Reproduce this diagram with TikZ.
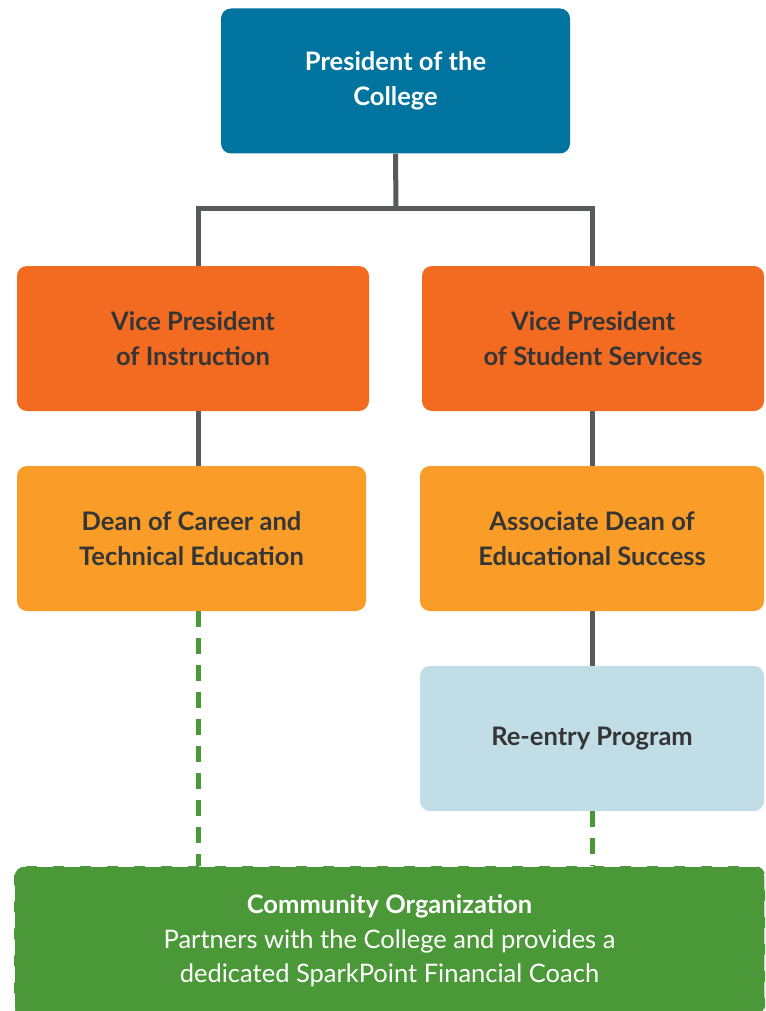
\documentclass[tikz,border=0pt]{standalone}
\usepackage{fontspec}
\setmainfont{Lato}
\definecolor{presblue}{HTML}{00739E}
\definecolor{vporange}{HTML}{F26B21}
\definecolor{deanorange}{HTML}{F99D28}
\definecolor{relblue}{HTML}{C1DDE6}
\definecolor{cogreen}{HTML}{4A9838}
\definecolor{linegray}{HTML}{58595B}
\definecolor{txtdark}{HTML}{353535}
\begin{document}
\begin{tikzpicture}[x=1pt,y=-1pt,
  box/.style={rounded corners=10pt, inner sep=0pt, align=center, font=\fontsize{25.5}{34.5}\selectfont\bfseries},
  conn/.style={draw=linegray, line width=5pt},
  dconn/.style={draw=cogreen, line width=5pt, dash pattern=on 16pt off 11pt}]
\useasboundingbox (0,0) rectangle (765,1011);
\node[box, fill=presblue, text=white, minimum width=349pt, minimum height=145pt] (pres) at (395.5,81) {President of the\\College};
\node[box, fill=vporange, text=txtdark, minimum width=352pt, minimum height=145pt] (vpi) at (193,338.5) {Vice President\\of Instruction};
\node[box, fill=vporange, text=txtdark, minimum width=342pt, minimum height=145pt] (vps) at (593,338.5) {Vice President\\of Student Services};
\node[box, fill=deanorange, text=txtdark, minimum width=349pt, minimum height=145pt] (dean) at (191.5,538.5) {Dean of Career and\\Technical Education};
\node[box, fill=deanorange, text=txtdark, minimum width=344pt, minimum height=145pt] (ad) at (592,538.5) {Associate Dean of\\Educational Success};
\node[box, fill=relblue, text=txtdark, minimum width=344pt, minimum height=145pt] (re) at (592,738.5) {Re-entry Program};
\node[box, fill=cogreen, text=white, draw=white, line width=1.5pt, dash pattern=on 16pt off 11pt, minimum width=751pt, minimum height=150pt, font=\fontsize{25.5}{34.5}\selectfont] (co) at (389.5,941) {\textbf{Community Organization}\\Partners with the College and provides a\\dedicated SparkPoint Financial Coach};
\coordinate (vpiTop) at (198,266);
\coordinate (vpsTop) at (592,266);
\coordinate (vpiBot) at (198,411);
\coordinate (deanTop) at (198,466);
\coordinate (deanBot) at (198,611);
\coordinate (coL) at (198,866);
\coordinate (coR) at (592,866);
\coordinate (vpsBot) at (592,411);
\coordinate (adTop) at (592,466);
\coordinate (adBot) at (592,611);
\coordinate (reTop) at (592,666);
\coordinate (reBot) at (592,811);
\draw[conn] (pres.south) -- (396,208);
\draw[conn] (vpiTop) |- (396,208) -| (vpsTop);
\draw[conn] (vpiBot) -- (deanTop);
\draw[conn] (vpsBot) -- (adTop);
\draw[conn] (adBot) -- (reTop);
\draw[dconn] (deanBot) -- (coL);
\draw[dconn] (reBot) -- (coR);
\end{tikzpicture}
\end{document}
